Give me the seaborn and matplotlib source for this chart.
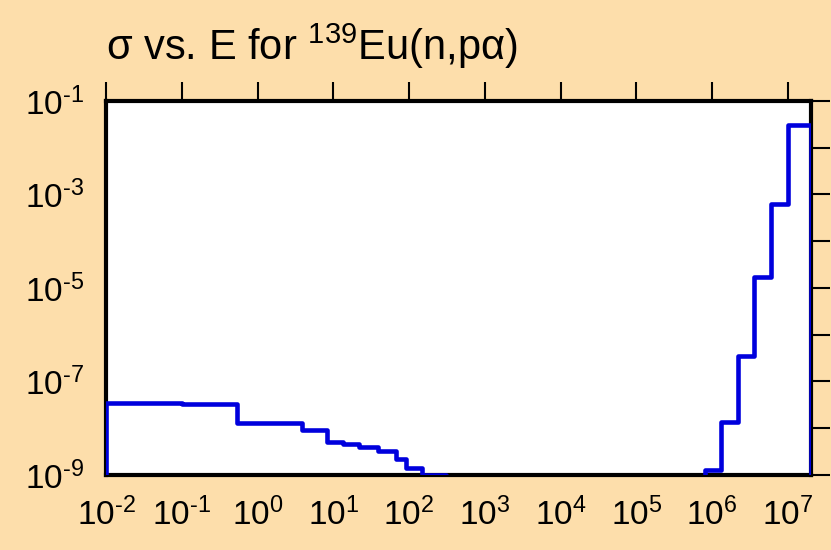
import matplotlib
matplotlib.use('Agg')
import matplotlib.pyplot as plt
import seaborn as sns
import pandas as pd

# step edges (eV) and cross sections (b)
energy = [1e-5, 1e-2, 0.1, 0.53, 3.9, 8.3, 13.5, 22, 39, 67, 92, 147, 310,
          8.0e5, 1.32e6, 2.2e6, 3.6e6, 5.9e6, 1.0e7, 2.0e7]
sigma = [1e-11, 3.42e-8, 3.25e-8, 1.32e-8, 9.2e-9, 5.1e-9, 4.5e-9, 4.0e-9, 3.3e-9,
         2.2e-9, 1.39e-9, 1.0e-9, 1e-11,
         1.28e-9, 1.34e-8, 3.57e-7, 1.69e-5, 6.27e-4, 3.07e-2, 1e-11]

x_ticks = [1e-2, 1e-1, 1e0, 1e1, 1e2, 1e3, 1e4, 1e5, 1e6, 1e7]
x_labels = [r'$10^{\text{-}2}$', r'$10^{\text{-}1}$', '$10^{0}$', '$10^{1}$', '$10^{2}$',
            '$10^{3}$', '$10^{4}$', '$10^{5}$', '$10^{6}$', '$10^{7}$']
y_ticks = [1e-9, 1e-8, 1e-7, 1e-6, 1e-5, 1e-4, 1e-3, 1e-2, 1e-1]
y_labels = [r'$10^{\text{-}9}$', '', r'$10^{\text{-}7}$', '', r'$10^{\text{-}5}$', '',
            r'$10^{\text{-}3}$', '', r'$10^{\text{-}1}$']

df = pd.DataFrame({'E': energy, 'sigma': sigma})

sns.set_style('white')
plt.rcParams['font.family'] = ['Liberation Sans', 'DejaVu Sans']
plt.rcParams['mathtext.fontset'] = 'custom'
plt.rcParams['mathtext.rm'] = 'Liberation Sans'
plt.rcParams['mathtext.it'] = 'Liberation Sans'
plt.rcParams['mathtext.default'] = 'regular'
plt.rcParams['text.color'] = 'black'
plt.rcParams['xtick.color'] = 'black'
plt.rcParams['ytick.color'] = 'black'

bg = '#fddeab'
fig = plt.figure(figsize=(8.31, 5.5), dpi=100, facecolor=bg)
ax = fig.add_axes([0.1276, 0.1364, 0.848, 0.68])
ax.set_facecolor('white')

sns.lineplot(data=df, x='E', y='sigma', drawstyle='steps-post', estimator=None,
             color='#0000dd', linewidth=3.3, ax=ax, zorder=3)

ax.set_xscale('log')
ax.set_yscale('log')
ax.set_xlim(1e-2, 2e7)
ax.set_ylim(1e-9, 1e-1)
ax.minorticks_off()
ax.set_xticks(x_ticks)
ax.set_xticklabels(x_labels, fontsize=24)
ax.set_yticks(y_ticks)
ax.set_yticklabels(y_labels, fontsize=24)
ax.tick_params(axis='both', which='major', direction='out', length=14, width=1.5,
               color='black', labelcolor='black', top=True, right=True, pad=2)
ax.set_xlabel('')
ax.set_ylabel('')
for s in ax.spines.values():
    s.set_linewidth(3)
    s.set_color('black')

ax.text(0.0, 1.08, r'σ vs. E for $^{139}$Eu(n,pα)', transform=ax.transAxes,
        fontsize=30, ha='left', va='bottom', color='black')

fig.savefig('out.png', dpi=100, facecolor=bg)
